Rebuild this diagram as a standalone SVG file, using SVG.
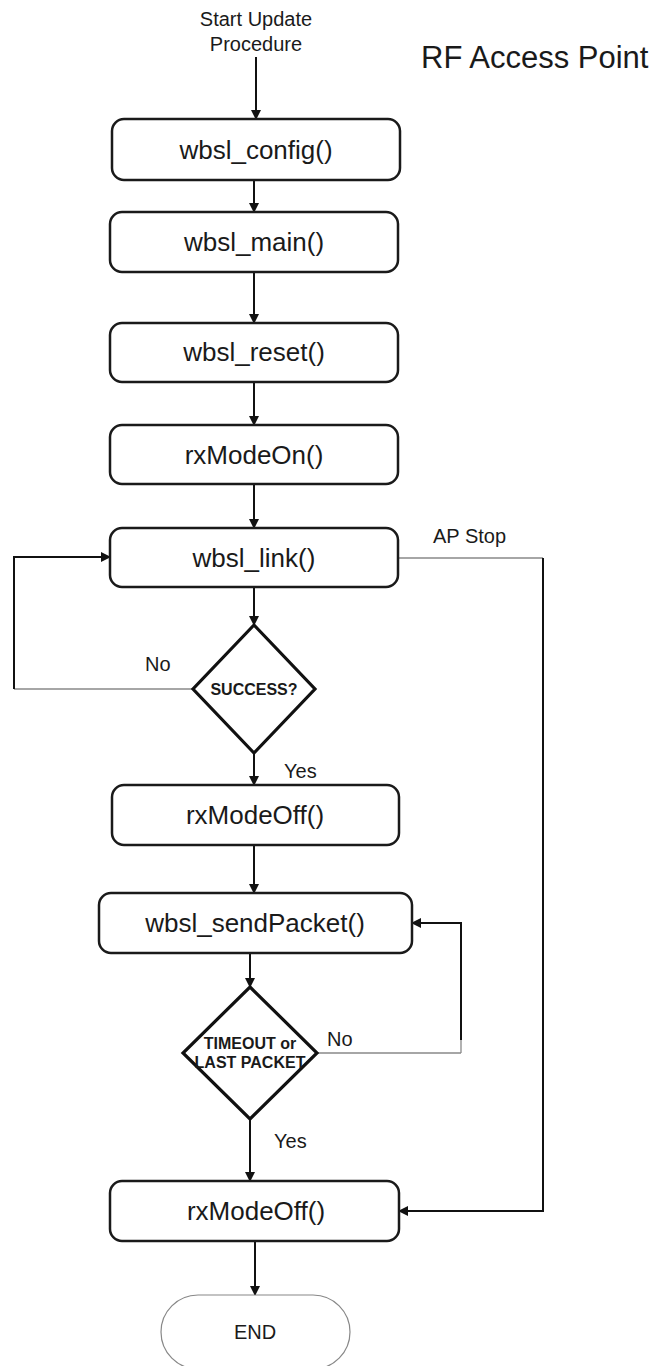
<svg xmlns="http://www.w3.org/2000/svg" width="655" height="1366" viewBox="0 0 655 1366">
<defs>
<marker id="arr" markerWidth="10" markerHeight="10" refX="9" refY="5" orient="auto" markerUnits="userSpaceOnUse">
<path d="M0,0 L10,5 L0,10 Z" fill="#111"/>
</marker>
<style>
.box{fill:#fff;stroke:#1a1a1a;stroke-width:2.5}
.dia{fill:#fff;stroke:#111;stroke-width:3.2}
.term{fill:#fff;stroke:#888;stroke-width:1.2}
.t{font-family:"Liberation Sans",Arial,sans-serif;font-size:26px;fill:#1a1a1a;text-anchor:middle}
.s{font-family:"Liberation Sans",Arial,sans-serif;font-size:20px;fill:#1a1a1a}
.b{font-family:"Liberation Sans",Arial,sans-serif;font-size:16px;font-weight:bold;fill:#1a1a1a;text-anchor:middle}
.c{fill:none;stroke:#111;stroke-width:2}
.g{fill:none;stroke:#888;stroke-width:1.3}
</style>
</defs>
<rect width="655" height="1366" fill="#fff"/>
<text x="421" y="68" font-family="Liberation Sans, Arial, sans-serif" font-size="31" fill="#1a1a1a">RF Access Point</text>
<g id="start">
<text class="s" x="256" y="26" text-anchor="middle">Start Update</text>
<text class="s" x="256" y="51" text-anchor="middle">Procedure</text>
</g>
<g id="connectors">
<line class="c" x1="256" y1="57" x2="256" y2="119" marker-end="url(#arr)"/>
<line class="c" x1="254" y1="180" x2="254" y2="212" marker-end="url(#arr)"/>
<line class="c" x1="254" y1="272" x2="254" y2="323" marker-end="url(#arr)"/>
<line class="c" x1="254" y1="382" x2="254" y2="425" marker-end="url(#arr)"/>
<line class="c" x1="254" y1="484" x2="254" y2="528" marker-end="url(#arr)"/>
<line class="c" x1="254" y1="587" x2="254" y2="625" marker-end="url(#arr)"/>
<line class="c" x1="254" y1="753" x2="254" y2="785" marker-end="url(#arr)"/>
<line class="c" x1="254" y1="845" x2="254" y2="893" marker-end="url(#arr)"/>
<line class="c" x1="250" y1="953" x2="250" y2="987" marker-end="url(#arr)"/>
<line class="c" x1="250" y1="1119" x2="250" y2="1181" marker-end="url(#arr)"/>
<line class="c" x1="255" y1="1241" x2="255" y2="1295" marker-end="url(#arr)"/>
<line class="g" x1="193" y1="689" x2="14" y2="689"/>
<polyline class="c" points="14,689 14,557 110,557" marker-end="url(#arr)"/>
<line class="g" x1="398" y1="558" x2="543" y2="558"/>
<polyline class="c" points="543,558 543,1211 399,1211" marker-end="url(#arr)"/>
<line class="g" x1="317" y1="1053" x2="461" y2="1053"/>
<polyline class="c" points="461,1040 461,923 412,923" marker-end="url(#arr)"/>
<line class="g" x1="461" y1="1053" x2="461" y2="1040"/>
<text class="s" x="433" y="543">AP Stop</text>
<text class="s" x="145" y="671">No</text>
<text class="s" x="284" y="778">Yes</text>
<text class="s" x="327" y="1046">No</text>
<text class="s" x="274" y="1148">Yes</text>
</g>
<g id="n_config"><rect class="box" x="112" y="119" width="288" height="61" rx="12"/><text class="t" x="256" y="159">wbsl_config()</text></g>
<g id="n_main"><rect class="box" x="110" y="212" width="288" height="60" rx="12"/><text class="t" x="254" y="251">wbsl_main()</text></g>
<g id="n_reset"><rect class="box" x="110" y="323" width="288" height="59" rx="12"/><text class="t" x="254" y="361">wbsl_reset()</text></g>
<g id="n_rxon"><rect class="box" x="110" y="425" width="288" height="59" rx="12"/><text class="t" x="254" y="464">rxModeOn()</text></g>
<g id="n_link"><rect class="box" x="110" y="528" width="288" height="59" rx="12"/><text class="t" x="254" y="567">wbsl_link()</text></g>
<g id="d_success"><polygon class="dia" points="254,625 315,689 254,753 193,689"/><text class="b" x="254" y="695">SUCCESS?</text></g>
<g id="n_rxoff1"><rect class="box" x="112" y="785" width="287" height="60" rx="12"/><text class="t" x="255" y="824">rxModeOff()</text></g>
<g id="n_send"><rect class="box" x="99" y="893" width="313" height="60" rx="12"/><text class="t" x="255" y="932">wbsl_sendPacket()</text></g>
<g id="d_timeout"><polygon class="dia" points="250,987 317,1053 250,1119 183,1053"/><text class="b" x="250" y="1049">TIMEOUT or</text><text class="b" x="250" y="1068">LAST PACKET</text></g>
<g id="n_rxoff2"><rect class="box" x="110" y="1181" width="289" height="60" rx="12"/><text class="t" x="256" y="1220">rxModeOff()</text></g>
<g id="n_end"><rect class="term" x="161" y="1295" width="189" height="74" rx="37"/><text class="s" x="255" y="1339" text-anchor="middle">END</text></g>
</svg>
